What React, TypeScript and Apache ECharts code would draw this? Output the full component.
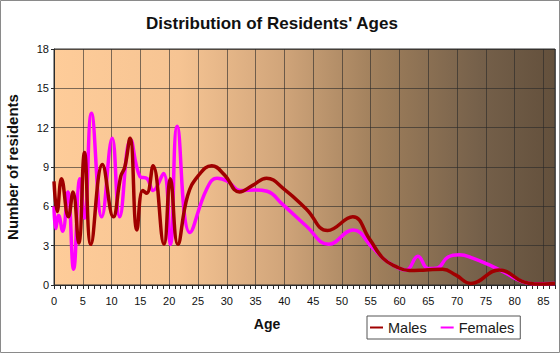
import React, { useEffect, useRef } from 'react';
import * as echarts from 'echarts';

const TITLE = "Distribution of Residents' Ages";
const X_TITLE = 'Age';
const Y_TITLE = 'Number of residents';
const SERIES_NAMES = ['Males', 'Females'];

const maleAges = [0, 0.55, 1.3, 2.5, 3.3, 4.3, 5.3, 6.4, 8.4, 10.3, 11.6, 12.3, 13.2, 14.4, 15.4, 16.1, 17.2, 19.1, 20.2, 21.5, 23.2, 25.0, 27.4, 29.6, 32.2, 34.5, 36.9, 40, 43.8, 47.5, 51.9, 54.8, 57.1, 59.4, 61.7, 64.6, 67.5, 69.8, 72.4, 77.3, 81.4, 83.5, 87];
const maleValues = [7.9, 5.6, 8.1, 5.2, 7.1, 3.2, 10.1, 3.1, 9.2, 5.2, 8.3, 9.0, 11.2, 4.2, 7.2, 7.0, 9.1, 3.1, 8.1, 3.1, 6.8, 8.3, 9.1, 8.4, 7.1, 7.6, 8.15, 7.3, 5.8, 4.15, 5.2, 3.5, 2.05, 1.4, 1.1, 1.15, 1.2, 0.75, 0.12, 1.15, 0.25, 0.08, 0.12];

const femaleAges = [0, 0.3, 0.8, 1.5, 2.4, 3.4, 4.5, 5.3, 6.5, 8.3, 10.1, 11.4, 13.3, 14.9, 16.2, 17.2, 19.0, 20.2, 21.4, 23.6, 26.5, 28.3, 30.2, 32.3, 35, 37, 39.7, 43.8, 47.7, 51.9, 55.4, 57.5, 60, 61.2, 63.2, 65, 66.6, 68.3, 70.4, 72.7, 76.2, 78.5, 80.8, 83, 87];
const femaleValues = [6.0, 4.3, 5.3, 4.1, 7.1, 1.2, 8.1, 5.1, 13.1, 5.2, 11.2, 5.2, 11.1, 8.3, 8.1, 7.2, 8.5, 3.1, 12.1, 4.0, 7.3, 8.15, 7.9, 7.2, 7.25, 7.15, 6.15, 4.5, 3.1, 4.2, 2.8, 1.9, 1.25, 1.15, 2.2, 1.25, 1.3, 2.1, 2.3, 2.05, 1.4, 0.9, 0.35, 0.1, 0.12];

const X_MIN = 0;
const X_MAX = 87;
const X_STEP = 5;
const Y_MIN = 0;
const Y_MAX = 18;
const Y_STEP = 3;

const FONT = '"Liberation Sans", Arial, Helvetica, sans-serif';

export default function App() {
  const ref = useRef<HTMLDivElement>(null);

  useEffect(() => {
    if (!ref.current) return;
    const chart = echarts.init(ref.current, undefined, { renderer: 'svg' });
    const pair = (xs: number[], ys: number[]) => xs.map((x, i) => [x, ys[i]]);

    chart.setOption({
      animation: false,
      backgroundColor: '#ffffff',
      textStyle: { fontFamily: FONT },
      grid: {
        left: 54,
        top: 49,
        width: 501,
        height: 236,
        show: true,
        borderColor: '#333333',
        borderWidth: 1,
        backgroundColor: new echarts.graphic.LinearGradient(0, 0, 1, 0, [
          { offset: 0, color: '#FECC99' },
          { offset: 0.25, color: '#F6C493' },
          { offset: 0.45, color: '#D2A67B' },
          { offset: 0.65, color: '#9E7E5B' },
          { offset: 0.85, color: '#75604A' },
          { offset: 1, color: '#63503C' },
        ]),
      },
      xAxis: {
        type: 'value',
        min: X_MIN,
        max: X_MAX,
        interval: X_STEP,
        axisLine: { show: true, onZero: false, lineStyle: { color: '#2a2a2a', width: 1 } },
        axisTick: { show: true, length: 4, lineStyle: { color: '#2a2a2a' } },
        minorTick: { show: true, splitNumber: 5, length: 4, lineStyle: { color: '#2a2a2a' } },
        axisLabel: {
          color: '#111',
          fontSize: 11,
          fontFamily: FONT,
          margin: 10,
          showMaxLabel: false,
        },
        splitLine: { show: true, lineStyle: { color: 'rgba(40,40,40,0.6)', width: 1 } },
      },
      yAxis: {
        type: 'value',
        min: Y_MIN,
        max: Y_MAX,
        interval: Y_STEP,
        axisLine: { show: true, lineStyle: { color: '#2a2a2a', width: 1 } },
        axisTick: { show: true, length: 3, lineStyle: { color: '#2a2a2a' } },
        axisLabel: { color: '#111', fontSize: 11, fontFamily: FONT, margin: 5 },
        splitLine: { show: true, lineStyle: { color: 'rgba(40,40,40,0.6)', width: 1 } },
      },
      legend: {
        left: 367,
        top: 316,
        orient: 'horizontal',
        padding: [4, 6, 4, 3],
        itemGap: 14,
        itemWidth: 13,
        itemHeight: 2,
        borderColor: '#555555',
        borderWidth: 1,
        icon: 'rect',
        textStyle: { color: '#1a1a1a', fontSize: 14.5, fontFamily: FONT },
        data: SERIES_NAMES,
      },
      series: [
        {
          name: SERIES_NAMES[0],
          type: 'line',
          data: pair(maleAges, maleValues),
          smooth: 0.45,
          showSymbol: false,
          symbol: 'none',
          lineStyle: { color: '#A00000', width: 3.5 },
          itemStyle: { color: '#A00000' },
          z: 3,
        },
        {
          name: SERIES_NAMES[1],
          type: 'line',
          data: pair(femaleAges, femaleValues),
          smooth: 0.45,
          showSymbol: false,
          symbol: 'none',
          lineStyle: { color: '#FF00FF', width: 3.5 },
          itemStyle: { color: '#FF00FF' },
          z: 2,
        },
      ],
      graphic: [
        {
          type: 'rect',
          shape: { x: 0.5, y: 0.5, width: 559, height: 352 },
          style: { fill: 'none', stroke: '#8a8a8a', lineWidth: 1 },
          silent: true,
        },
        {
          type: 'text',
          x: 272,
          y: 23,
          style: {
            text: TITLE,
            fill: '#111',
            font: `bold 17px ${FONT}`,
            align: 'center',
            verticalAlign: 'middle',
          },
        },
        {
          type: 'text',
          x: 12,
          y: 167,
          rotation: Math.PI / 2,
          style: {
            text: Y_TITLE,
            fill: '#111',
            font: `bold 15px ${FONT}`,
            align: 'center',
            verticalAlign: 'middle',
          },
        },
        {
          type: 'text',
          x: 267,
          y: 324,
          style: {
            text: X_TITLE,
            fill: '#111',
            font: `bold 14px ${FONT}`,
            align: 'center',
            verticalAlign: 'middle',
          },
        },
      ],
    });

    return () => chart.dispose();
  }, []);

  return (
    <div
      ref={ref}
      style={{ position: 'fixed', left: 0, top: 0, width: 560, height: 353 }}
    />
  );
}
